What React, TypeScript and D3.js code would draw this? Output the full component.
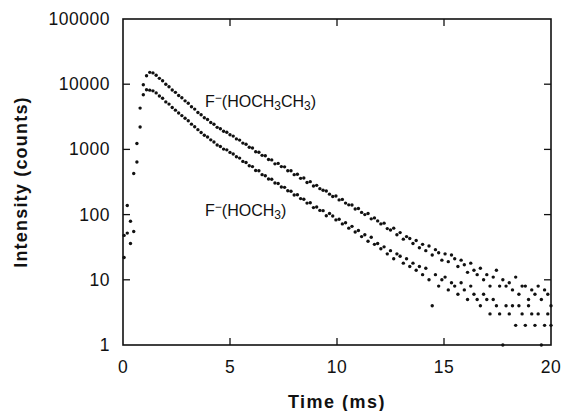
import { useEffect, useRef } from 'react'
import * as d3 from 'd3'

// time axis (ms)
const times = [
  0.05, 0.2, 0.35, 0.5, 0.65, 0.8, 0.95, 1.1, 1.25, 1.4,
  1.55, 1.7, 1.85, 2, 2.15, 2.3, 2.45, 2.6, 2.75, 2.9,
  3.05, 3.2, 3.35, 3.5, 3.65, 3.8, 3.95, 4.1, 4.25, 4.4,
  4.55, 4.7, 4.85, 5, 5.15, 5.3, 5.45, 5.6, 5.75, 5.9,
  6.05, 6.2, 6.35, 6.5, 6.65, 6.8, 6.95, 7.1, 7.25, 7.4,
  7.55, 7.7, 7.85, 8, 8.15, 8.3, 8.45, 8.6, 8.75, 8.9,
  9.05, 9.2, 9.35, 9.5, 9.65, 9.8, 9.95, 10.1, 10.25, 10.4,
  10.55, 10.7, 10.85, 11, 11.15, 11.3, 11.45, 11.6, 11.75, 11.9,
  12.05, 12.2, 12.35, 12.5, 12.65, 12.8, 12.95, 13.1, 13.25, 13.4,
  13.55, 13.7, 13.85, 14, 14.15, 14.3, 14.45, 14.6, 14.75, 14.9,
  15.05, 15.2, 15.35, 15.5, 15.65, 15.8, 15.95, 16.1, 16.25, 16.4,
  16.55, 16.7, 16.85, 17, 17.15, 17.3, 17.45, 17.6, 17.75, 17.9,
  18.05, 18.2, 18.35, 18.5, 18.65, 18.8, 18.95, 19.1, 19.25, 19.4,
  19.55, 19.7, 19.85, 20
]

// F-(HOCH3CH3) counts
const ethanolCounts = [
  48, 138, 79, 427, 1230, 4300, 9800, 13500, 15200, 14900,
  13700, 12300, 11300, 10000, 9150, 8150, 7500, 6700, 6200, 5550,
  5100, 4520, 4150, 3680, 3400, 3060, 2880, 2590, 2430, 2180,
  2070, 1900, 1830, 1680, 1600, 1450, 1390, 1250, 1200, 1080,
  1050, 920, 905, 810, 800, 700, 690, 600, 610, 545,
  540, 470, 470, 410, 415, 360, 365, 310, 320, 275,
  281, 250, 236, 230, 206, 189, 193, 168, 171, 150,
  141, 140, 122, 124, 108, 100, 104, 86, 89, 80,
  72, 74, 61, 58, 62, 49, 53, 42, 46, 43,
  36, 40, 31, 35, 28, 33, 24, 29, 26, 20,
  25, 19, 24, 21, 16, 20, 17, 13, 18, 14,
  12, 15, 10, 12, 8, 11, 14, 8, 10, 8,
  9, 7, 11, 6, 8, 8, 5, 7, 6, 8,
  5, 7, 6, 4
]

// F-(HOCH3) counts
const methanolCounts = [
  22, 52, 36, 55, 640, 2200, 6900, 8200, 8100, 7900,
  7350, 6600, 6100, 5350, 4950, 4400, 4000, 3620, 3300, 3000,
  2750, 2440, 2230, 2010, 1820, 1650, 1550, 1400, 1300, 1170,
  1110, 1010, 985, 900, 850, 770, 735, 655, 630, 560,
  545, 475, 470, 410, 395, 352, 348, 305, 300, 265,
  262, 232, 228, 200, 202, 176, 172, 150, 152, 128,
  131, 116, 115, 96, 104, 95, 83, 85, 72, 75,
  62, 66, 54, 57, 46, 49, 39, 45, 35, 36,
  30, 32, 25, 28, 21, 25, 23, 18, 21, 16,
  18, 14, 16, 12, 15, 10, 4, 12, 8, 10,
  11, 7, 9, 8, 6, 9, 7, 5, 8, 6,
  5, 4, 6, 5, 3, 5, 4, 3, 1, 4,
  3, 4, 2, 4, 3, 2, 4, 3, 2, 3,
  1, 2, 3, 2
]

const xTicks = [0, 5, 10, 15, 20]
const yTicks = [1, 10, 100, 1000, 10000, 100000]

const FONT = '"Liberation Sans", Arial, Helvetica, sans-serif'

export default function App() {
  const svgRef = useRef<SVGSVGElement>(null)
  const width = 561
  const height = 411

  useEffect(() => {
    const svg = d3.select(svgRef.current)
    svg.selectAll('*').remove()

    const left = 123, right = 551, top = 19, bottom = 345
    const x = d3.scaleLinear().domain([0, 20]).range([left, right])
    const y = d3.scaleLog().domain([1, 100000]).range([bottom, top])

    const all = [
      ...times.map((t, i) => ({ t, v: ethanolCounts[i] })),
      ...times.map((t, i) => ({ t, v: methanolCounts[i] })),
    ]

    svg.append('g')
      .selectAll('circle')
      .data(all)
      .enter().append('circle')
      .attr('cx', d => x(d.t))
      .attr('cy', d => y(d.v))
      .attr('r', 1.7)
      .attr('fill', '#111')

    // frame
    svg.append('rect')
      .attr('x', left).attr('y', top)
      .attr('width', right - left).attr('height', bottom - top)
      .attr('fill', 'none')
      .attr('stroke', '#111')
      .attr('stroke-width', 1.6)

    const tickLen = 7
    const g = svg.append('g').attr('stroke', '#111').attr('stroke-width', 1.3)
    xTicks.slice(1, -1).forEach(t => {
      g.append('line').attr('x1', x(t)).attr('x2', x(t)).attr('y1', bottom).attr('y2', bottom - tickLen)
      g.append('line').attr('x1', x(t)).attr('x2', x(t)).attr('y1', top).attr('y2', top + tickLen)
    })
    yTicks.slice(1, -1).forEach(v => {
      g.append('line').attr('x1', left).attr('x2', left + tickLen).attr('y1', y(v)).attr('y2', y(v))
      g.append('line').attr('x1', right).attr('x2', right - tickLen).attr('y1', y(v)).attr('y2', y(v))
    })

    svg.append('g')
      .selectAll('text')
      .data(xTicks)
      .enter().append('text')
      .attr('x', d => x(d))
      .attr('y', bottom + 28)
      .attr('text-anchor', 'middle')
      .style('font-family', FONT)
      .style('font-size', '17.5px')
      .style('letter-spacing', '0.5px')
      .attr('fill', '#111')
      .text(d => d)

    svg.append('g')
      .selectAll('text')
      .data(yTicks)
      .enter().append('text')
      .attr('x', 110)
      .attr('y', d => y(d) + 6)
      .attr('text-anchor', 'end')
      .style('font-family', FONT)
      .style('font-size', '17.5px')
      .style('letter-spacing', '0.5px')
      .attr('fill', '#111')
      .text(d => d)

    svg.append('text')
      .attr('x', (left + right) / 2)
      .attr('y', 408)
      .attr('text-anchor', 'middle')
      .style('font-family', FONT)
      .style('font-size', '18px')
      .style('font-weight', 'bold')
      .style('letter-spacing', '1.5px')
      .attr('fill', '#111')
      .text('Time (ms)')

    svg.append('text')
      .attr('transform', `translate(27, ${(top + bottom) / 2}) rotate(-90)`)
      .attr('text-anchor', 'middle')
      .style('font-family', FONT)
      .style('font-size', '18px')
      .style('font-weight', 'bold')
      .style('letter-spacing', '1.2px')
      .attr('fill', '#111')
      .text('Intensity (counts)')

    const label = (lx: number, ly: number, parts: [string, string][]) => {
      const txt = svg.append('text')
        .attr('x', lx).attr('y', ly)
        .style('font-family', FONT)
        .style('font-size', '16px')
        .attr('fill', '#111')
      parts.forEach(([s, kind]) => {
        const sp = txt.append('tspan').text(s)
        if (kind === 'sup') sp.style('font-size', '12px').attr('baseline-shift', '45%')
        if (kind === 'sub') sp.style('font-size', '12px').attr('baseline-shift', '-25%')
      })
    }
    label(205, 107, [['F', ''], ['\u2212', 'sup'], ['(HOCH', ''], ['3', 'sub'], ['CH', ''], ['3', 'sub'], [')', '']])
    label(205, 216, [['F', ''], ['\u2212', 'sup'], ['(HOCH', ''], ['3', 'sub'], [')', '']])
  }, [])

  return (
    <svg
      ref={svgRef}
      width={width}
      height={height}
      style={{ position: 'absolute', left: 0, top: 0, background: '#fff' }}
    />
  )
}
